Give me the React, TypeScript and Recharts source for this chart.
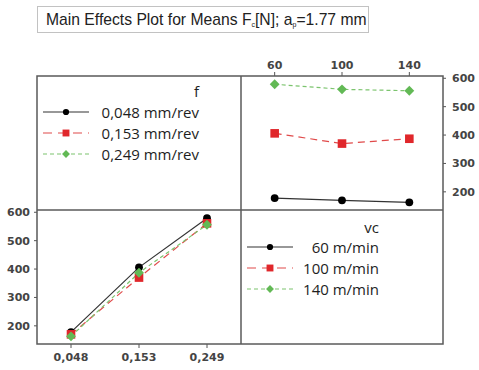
import React from 'react';
import { LineChart, Line, XAxis, YAxis } from 'recharts';

// ---- data ----
const vcLabels = ['60', '100', '140'];
const fLabels = ['0,048', '0,153', '0,249'];
const fLegend = ['0,048 mm/rev', '0,153 mm/rev', '0,249 mm/rev'];
const vcLegend = ['60 m/min', '100 m/min', '140 m/min'];
// mean Fc [N] for each feed level, indexed by vc (60, 100, 140)
const fcF048 = [178, 170, 163];
const fcF153 = [406, 370, 387];
const fcF249 = [579, 561, 556];
const yTicks = [200, 300, 400, 500, 600];
const yDomain: [number, number] = [136, 608];

const fSeries = [fcF048, fcF153, fcF249];
const topData = vcLabels.map((_, i) => ({ i, s0: fcF048[i], s1: fcF153[i], s2: fcF249[i] }));
const bottomData = fLabels.map((_, j) => ({ i: j, s0: fSeries[j][0], s1: fSeries[j][1], s2: fSeries[j][2] }));

const styles = [
  { fill: '#000000', line: '#333333', dash: undefined as string | undefined, shape: 'circle' },
  { fill: '#e0272b', line: '#e04a4a', dash: '7 5', shape: 'square' },
  { fill: '#62b955', line: '#7cc46e', dash: '4 3', shape: 'diamond' },
];

const Marker = ({ cx, cy, shape, fill, s = 1 }: any) => {
  if (cx == null || cy == null) return null;
  if (shape === 'circle') return <circle cx={cx} cy={cy} r={3.9 * s} fill={fill} />;
  if (shape === 'square') {
    const h = 4.3 * s;
    return <rect x={cx - h} y={cy - h} width={2 * h} height={2 * h} fill={fill} />;
  }
  const h = 4.9 * s;
  return <polygon points={`${cx},${cy - h} ${cx + h},${cy} ${cx},${cy + h} ${cx - h},${cy}`} fill={fill} />;
};

const tickStyle = { fontFamily: 'DejaVu Sans', fontWeight: 'bold' as const, fontSize: 11, fill: '#444' };

const Swatch = ({ st, left, cy }: any) => (
  <svg style={{ position: 'absolute', left, top: cy - 6 }} width={46} height={12}>
    <line x1={0} y1={6} x2={46} y2={6} stroke={st.line} strokeWidth={1.2} strokeDasharray={st.dash ? (st.shape === 'square' ? '9 6' : '4 3') : undefined} />
    <Marker cx={23} cy={6} shape={st.shape} fill={st.fill} s={0.8} />
  </svg>
);

const legendText = { position: 'absolute' as const, fontFamily: 'Open Sans', fontSize: 15, color: '#1e1e1e', lineHeight: '20px', textAlign: 'right' as const, whiteSpace: 'nowrap' as const };

export default function App() {
  const renderLines = () =>
    styles.map((st, k) => (
      <Line
        key={k}
        type="linear"
        dataKey={`s${k}`}
        stroke={st.line}
        strokeWidth={1.2}
        strokeDasharray={st.dash}
        isAnimationActive={false}
        dot={(p: any) => <Marker key={p.index} cx={p.cx} cy={p.cy} shape={st.shape} fill={st.fill} />}
        activeDot={false}
      />
    ));

  return (
    <div style={{ position: 'fixed', left: 0, top: 0, width: 479, height: 370, background: '#fff', overflow: 'hidden' }}>
      {/* title box */}
      <div style={{ position: 'absolute', left: 37, top: 6, width: 332, height: 27, boxSizing: 'border-box', border: '1px solid #c2c2c2', fontFamily: 'Liberation Sans, Arial', fontSize: 15.7, color: '#222', lineHeight: '25px', paddingLeft: 8, whiteSpace: 'nowrap' }}>
        Main Effects Plot for Means F<sub style={{ fontSize: 7, verticalAlign: -2 }}>c</sub>[N]; a<sub style={{ fontSize: 7, verticalAlign: -2 }}>p</sub>=1.77 mm
      </div>

      {/* top-right panel: Fc vs vc */}
      <div style={{ position: 'absolute', left: 0, top: 0 }}>
        <LineChart width={479} height={370} data={topData} margin={{ top: 56, left: 241, right: 0, bottom: 160 }}>
          <XAxis dataKey="i" type="number" orientation="top" domain={[-0.5, 2.5]} ticks={[0, 1, 2]} tickFormatter={(v: number) => vcLabels[v]} height={20} axisLine={false} tickLine={{ stroke: '#555' }} tickSize={4} tickMargin={3} tick={tickStyle} />
          <YAxis type="number" orientation="right" domain={yDomain} ticks={yTicks} width={36} axisLine={false} tickLine={{ stroke: '#555' }} tickSize={3} tickMargin={6} tick={tickStyle} />
          {renderLines()}
        </LineChart>
      </div>

      {/* bottom-left panel: Fc vs f */}
      <div style={{ position: 'absolute', left: 0, top: 0 }}>
        <LineChart width={479} height={370} data={bottomData} margin={{ top: 210, left: 0, right: 238, bottom: 0 }}>
          <XAxis dataKey="i" type="number" orientation="bottom" domain={[-0.5, 2.5]} ticks={[0, 1, 2]} tickFormatter={(v: number) => fLabels[v]} height={26} axisLine={false} tickLine={{ stroke: '#555' }} tickSize={4} tickMargin={5} tick={tickStyle} />
          <YAxis type="number" orientation="left" domain={yDomain} ticks={yTicks} width={37} axisLine={false} tickLine={{ stroke: '#555' }} tickSize={3} tickMargin={4} tick={tickStyle} />
          {renderLines()}
        </LineChart>
      </div>

      {/* frame */}
      <svg style={{ position: 'absolute', left: 0, top: 0, pointerEvents: 'none' }} width={479} height={370}>
        <rect x={37} y={76} width={406} height={268} fill="none" stroke="#5a5a5a" strokeWidth={1.5} />
        <line x1={241} y1={76} x2={241} y2={344} stroke="#5a5a5a" strokeWidth={1.5} />
        <line x1={37} y1={210} x2={443} y2={210} stroke="#5a5a5a" strokeWidth={1.5} />
      </svg>

      {/* f legend */}
      <div style={{ ...legendText, left: 90, width: 109, top: 81 }}>f</div>
      {fLegend.map((t, k) => (
        <React.Fragment key={t}>
          <Swatch st={styles[k]} left={43} cy={112 + 21 * k} />
          <div style={{ ...legendText, left: 90, width: 109, top: 102 + 21 * k }}>{t}</div>
        </React.Fragment>
      ))}

      {/* vc legend */}
      <div style={{ ...legendText, left: 300, width: 79, top: 217 }}>vc</div>
      {vcLegend.map((t, k) => (
        <React.Fragment key={t}>
          <Swatch st={styles[k]} left={247} cy={247 + 21 * k} />
          <div style={{ ...legendText, left: 300, width: 79, top: 237 + 21 * k }}>{t}</div>
        </React.Fragment>
      ))}
    </div>
  );
}
